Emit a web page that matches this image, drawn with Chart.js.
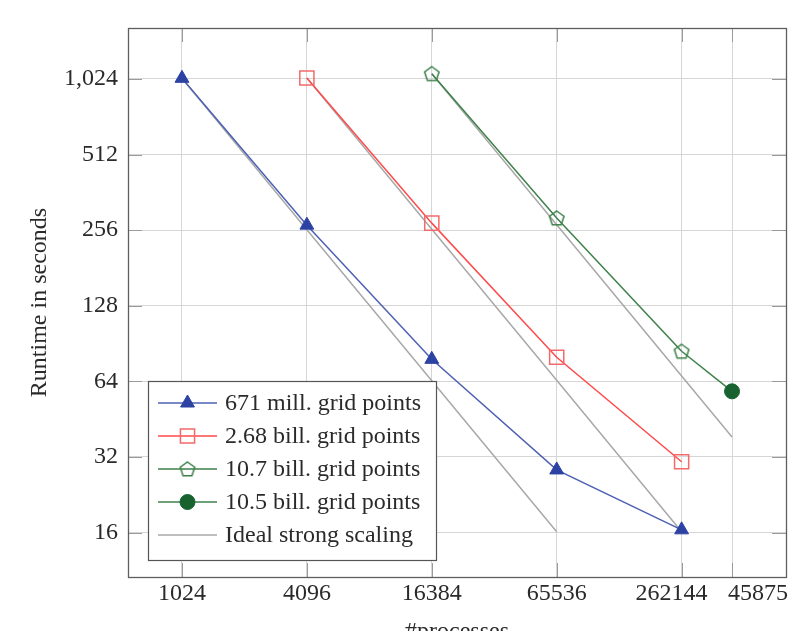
<!DOCTYPE html>
<html><head><meta charset="utf-8">
<script src="https://cdn.jsdelivr.net/npm/chart.js@4/dist/chart.umd.min.js"></script>
<style>html,body{margin:0;padding:0;background:#fff}canvas{display:block}</style>
</head><body>
<canvas id="c" width="789" height="631"></canvas>
<script>
// ---- data ----
const processTicks = [1024, 4096, 16384, 65536, 262144, 458752];
const runtimeTicks = [16, 32, 64, 128, 256, 512, 1024];

const procs671M = [1024, 4096, 16384, 65536, 262144];
const time671M  = [1030, 268, 78.3, 28.4, 16.4];

const procs268B = [4096, 16384, 65536, 262144];
const time268B  = [1033, 273, 79.8, 30.6];

const procs107B = [16384, 65536, 262144];
const time107B  = [1075, 286, 84.3];

const procs105B = [262144, 458752];
const time105B  = [84.3, 58.4];

const idealProcsA = [1024, 4096, 16384, 65536];
const idealTimeA  = [1030, 257, 64.4, 16.1];
const idealProcsB = [4096, 16384, 65536, 262144];
const idealTimeB  = [1033, 258, 64.6, 16.1];
const idealProcsC = [16384, 65536, 262144, 458752];
const idealTimeC  = [1075, 269, 67.2, 38.4];

const seriesNames = ['671 mill. grid points', '2.68 bill. grid points', '10.7 bill. grid points', '10.5 bill. grid points', 'Ideal strong scaling'];

// ---- styles ----
const FAMILY = "'Liberation Serif', 'Times New Roman', serif";
const FS = 24;
const TXT = '#2a2a2a';
const BLUE_L = '#4d60b3', BLUE_M = '#2c43a3';
const RED_L = '#ff4a4a', RED_M = '#f26a6a';
const GREEN_L = '#3d8049', GREEN_M = '#3d8049';
const DGREEN = '#17622f';
const GRAY = '#a8a8a8';

function pentagonCanvas(color) {
  const c = document.createElement('canvas');
  c.width = 20; c.height = 20;
  const g = c.getContext('2d');
  g.strokeStyle = color; g.lineWidth = 1.5;
  g.beginPath();
  for (let i = 0; i < 5; i++) {
    const a = -Math.PI / 2 + i * 2 * Math.PI / 5;
    const px = 10 + 7.6 * Math.cos(a), py = 10.6 + 7.6 * Math.sin(a);
    if (i === 0) g.moveTo(px, py); else g.lineTo(px, py);
  }
  g.closePath(); g.stroke();
  return c;
}
const pent = pentagonCanvas(GREEN_M);

const pts = (xs, ys) => xs.map((x, i) => ({x: x, y: ys[i]}));

const datasets = [
  {label: seriesNames[0], data: pts(procs671M, time671M), borderColor: BLUE_L, borderWidth: 1.5,
   pointStyle: 'triangle', pointRadius: 8, pointBackgroundColor: BLUE_M, pointBorderColor: BLUE_M, pointBorderWidth: 1},
  {label: seriesNames[1], data: pts(procs268B, time268B), borderColor: RED_L, borderWidth: 1.5,
   pointStyle: 'rect', pointRadius: 10, pointBackgroundColor: 'rgba(0,0,0,0)', pointBorderColor: RED_M, pointBorderWidth: 1.5},
  {label: seriesNames[2], data: pts(procs107B, time107B), borderColor: GREEN_L, borderWidth: 1.5,
   pointStyle: pent, pointRadius: 8},
  {label: seriesNames[3], data: pts(procs105B, time105B), borderColor: GREEN_L, borderWidth: 1.5,
   pointStyle: 'circle', pointRadius: [0, 7.5], pointBackgroundColor: DGREEN, pointBorderColor: DGREEN, pointBorderWidth: 1},
  {label: seriesNames[4], data: pts(idealProcsA, idealTimeA), borderColor: GRAY, borderWidth: 1.5, pointRadius: 0},
  {label: seriesNames[4], data: pts(idealProcsB, idealTimeB), borderColor: GRAY, borderWidth: 1.5, pointRadius: 0},
  {label: seriesNames[4], data: pts(idealProcsC, idealTimeC), borderColor: GRAY, borderWidth: 1.5, pointRadius: 0}
];
// draw ideal lines beneath data lines
datasets.forEach((d, i) => { d.order = i >= 4 ? 10 : i; d.tension = 0; d.fill = false; });

const decor = {
  id: 'decor',
  afterDatasetsDraw(chart) {
    const ctx = chart.ctx, a = chart.chartArea;
    const xs = chart.scales.x, ys = chart.scales.y;
    ctx.save();
    // inward tick marks
    ctx.strokeStyle = '#9a9a9a'; ctx.lineWidth = 1;
    ctx.beginPath();
    processTicks.forEach(v => {
      const p = Math.round(xs.getPixelForValue(v)) + 0.5;
      ctx.moveTo(p, a.bottom); ctx.lineTo(p, a.bottom - 14);
      ctx.moveTo(p, a.top); ctx.lineTo(p, a.top + 14);
    });
    runtimeTicks.forEach(v => {
      const p = Math.round(ys.getPixelForValue(v)) + 0.5;
      ctx.moveTo(a.left, p); ctx.lineTo(a.left + 14, p);
      ctx.moveTo(a.right, p); ctx.lineTo(a.right - 14, p);
    });
    ctx.stroke();
    // axis frame
    ctx.strokeStyle = '#5e5e5e'; ctx.lineWidth = 1.3;
    ctx.strokeRect(Math.round(a.left) + 0.5, Math.round(a.top) + 0.5, Math.round(a.right - a.left), Math.round(a.bottom - a.top));

    // x tick labels
    ctx.font = FS + 'px ' + FAMILY; ctx.fillStyle = TXT; ctx.textBaseline = 'middle';
    processTicks.forEach((v, i) => {
      const p = xs.getPixelForValue(v);
      if (i === processTicks.length - 1) { ctx.textAlign = 'left'; ctx.fillText(String(v), p - 4, 594); }
      else if (i === processTicks.length - 2) { ctx.textAlign = 'center'; ctx.fillText(String(v), p - 10, 594); }
      else { ctx.textAlign = 'center'; ctx.fillText(String(v), p, 594); }
    });

    // legend box
    const bx = 148.5, by = 381.5, bw = 288, bh = 179;
    ctx.fillStyle = '#fff'; ctx.fillRect(bx, by, bw, bh);
    ctx.strokeStyle = '#555'; ctx.lineWidth = 1.2; ctx.strokeRect(bx, by, bw, bh);
    const rows = [0, 1, 2, 3, 4];
    rows.forEach(r => {
      const ds = chart.data.datasets[r];
      const y = 403 + r * 33;
      ctx.strokeStyle = ds.borderColor; ctx.lineWidth = ds.borderWidth;
      ctx.beginPath(); ctx.moveTo(158, y); ctx.lineTo(217, y); ctx.stroke();
      const rad = Array.isArray(ds.pointRadius) ? ds.pointRadius[ds.pointRadius.length - 1] : ds.pointRadius;
      if (rad > 0) {
        ctx.fillStyle = ds.pointBackgroundColor || 'rgba(0,0,0,0)';
        ctx.strokeStyle = ds.pointBorderColor || ds.borderColor;
        ctx.lineWidth = ds.pointBorderWidth || 1;
        Chart.helpers.drawPoint(ctx, {pointStyle: ds.pointStyle, radius: rad, rotation: 0, borderWidth: ds.pointBorderWidth || 1}, 187.5, y);
      }
      ctx.fillStyle = TXT; ctx.textAlign = 'left'; ctx.textBaseline = 'middle';
      ctx.font = FS + 'px ' + FAMILY;
      ctx.fillText(ds.label, 225, y + 1);
    });
    ctx.restore();
  }
};

new Chart(document.getElementById('c'), {
  type: 'line',
  data: {datasets: datasets},
  plugins: [decor],
  options: {
    responsive: false, animation: false, devicePixelRatio: 1,
    layout: {autoPadding: false, padding: {left: 0, right: 3, top: 28, bottom: 0}},
    plugins: {legend: {display: false}, tooltip: {enabled: false}},
    scales: {
      x: {
        type: 'logarithmic', min: 562.6, max: 835000,
        afterBuildTicks: s => { s.ticks = processTicks.map(v => ({value: v})); },
        afterFit: s => { s.height = 54; },
        grid: {color: '#d6d6d6', lineWidth: 1, drawTicks: false},
        border: {display: false},
        ticks: {display: false},
        title: {display: true, text: '#processes', color: TXT, font: {family: FAMILY, size: FS}, padding: {top: 0, bottom: -15}}
      },
      y: {
        type: 'logarithmic', min: 10.64, max: 1634,
        afterBuildTicks: s => { s.ticks = runtimeTicks.map(v => ({value: v})); },
        afterFit: s => { s.width = 128; },
        grid: {color: '#d6d6d6', lineWidth: 1, drawTicks: false},
        border: {display: false},
        ticks: {callback: v => Number(v).toLocaleString('en-US'), color: TXT, font: {family: FAMILY, size: FS}, padding: 10, autoSkip: false},
        title: {display: true, text: 'Runtime in seconds', color: TXT, font: {family: FAMILY, size: FS}, padding: {top: 25.6, bottom: 0}}
      }
    }
  }
});
</script>
</body></html>
